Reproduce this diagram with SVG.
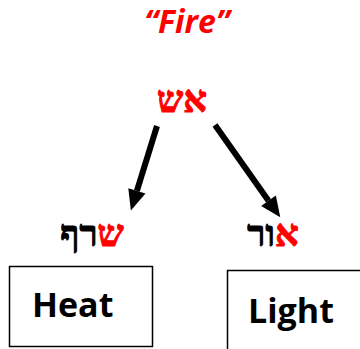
<svg xmlns="http://www.w3.org/2000/svg" width="360" height="349" viewBox="0 0 360 349">
<style>
.heb{font-family:"Liberation Serif","DejaVu Serif",serif;font-weight:bold;font-size:37px;fill:#000;stroke:#000;stroke-width:1}
.r{fill:#ff0000;stroke:#ff0000}
.lbl{font-family:"Open Sans","Liberation Sans",sans-serif;font-weight:700;font-size:34px;fill:#000}
.box{fill:#fff;stroke:#000;stroke-width:1.5}
.arr{stroke:#000;stroke-width:6;fill:none}
</style>
<defs>
<marker id="ah" markerUnits="strokeWidth" markerWidth="3.4" markerHeight="3" refX="0" refY="1.5" orient="auto" overflow="visible">
<path d="M0,0 L3.4,1.5 L0,3 z" fill="#000"/>
</marker>
</defs>
<rect width="360" height="349" fill="#fff"/>
<g id="title">
<text x="187" y="33" text-anchor="middle" font-family="'Open Sans','Liberation Sans',sans-serif" font-weight="700" font-style="italic" font-size="32" fill="#ff0000">“Fire”</text>
</g>
<g id="esh">
<text class="heb r" x="182" y="112" text-anchor="middle">אש</text>
</g>
<g id="connectors">
<line class="arr" x1="157" y1="126" x2="136.9" y2="190.9" marker-end="url(#ah)"/>
<line class="arr" x1="215" y1="125" x2="268.5" y2="200.7" marker-end="url(#ah)"/>
</g>
<g id="saraf">
<text class="heb" x="92" y="246" text-anchor="middle"><tspan class="r">ש</tspan>רף</text>
</g>
<g id="or">
<text class="heb" x="273" y="246" text-anchor="middle"><tspan class="r">א</tspan>ור</text>
</g>
<g id="heat">
<rect class="box" x="9.5" y="266.5" width="143" height="80"/>
<text class="lbl" x="32" y="317">Heat</text>
</g>
<g id="light">
<rect class="box" x="227.5" y="270.5" width="140" height="90"/>
<text class="lbl" x="248" y="323">Light</text>
</g>
</svg>
